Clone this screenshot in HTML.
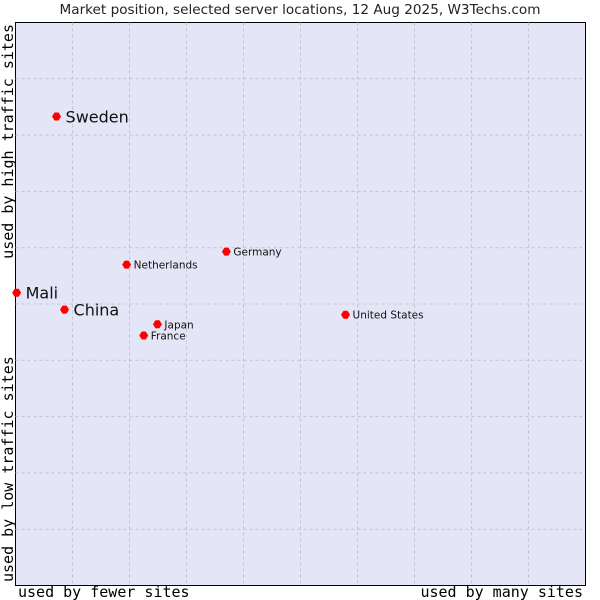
<!DOCTYPE html>
<html><head><meta charset="utf-8"><style>
body{margin:0;background:#fff}
svg{display:block}
</style></head><body>
<svg id="chart" width="600" height="600" xmlns="http://www.w3.org/2000/svg">
<text x="300" y="14" text-anchor="middle" font-family="DejaVu Sans, sans-serif" font-size="13.6" fill="#222">Market position, selected server locations, 12 Aug 2025, W3Techs.com</text>
<rect x="15.5" y="22.5" width="570" height="563" fill="#e4e6f8" stroke="#000"/>
<g id="grid"></g>
<g id="points"></g>
<text x="18" y="597" font-family="DejaVu Sans Mono, monospace" font-size="15" fill="#000">used by fewer sites</text>
<text x="583" y="597" text-anchor="end" font-family="DejaVu Sans Mono, monospace" font-size="15" fill="#000">used by many sites</text>
<text transform="translate(13,24) rotate(-90)" text-anchor="end" font-family="DejaVu Sans Mono, monospace" font-size="15" fill="#000">used by high traffic sites</text>
<text transform="translate(13,582) rotate(-90)" font-family="DejaVu Sans Mono, monospace" font-size="15" fill="#000">used by low traffic sites</text>
</svg>
<script>
const countries=["Sweden","Mali","China","Netherlands","Germany","Japan","France","United States"];
const xValues=[7.2,0.2,8.6,19.5,37,24.9,22.5,57.9];
const yValues=[83.3,52,49,57,59.3,46.4,44.4,48.1];
const bigLabel=[true,true,true,false,false,false,false,false];
const NS="http://www.w3.org/2000/svg";
const L=15.5,T=22.5,W=570,H=563;
const sx=v=>L+v/100*W, sy=v=>T+H-v/100*H;
const grid=document.getElementById('grid');
for(let i=1;i<10;i++){
 const v=document.createElementNS(NS,'line');
 
 
 v.setAttribute('x1',sx(i*10));v.setAttribute('x2',sx(i*10));v.setAttribute('y1',T);v.setAttribute('y2',T+H);
 v.setAttribute('stroke','#c4c4cc');v.setAttribute('stroke-dasharray','3,3');grid.appendChild(v);
 const h=document.createElementNS(NS,'line');
 
 
 h.setAttribute('y1',sy(i*10));h.setAttribute('y2',sy(i*10));h.setAttribute('x1',L);h.setAttribute('x2',L+W);
 h.setAttribute('stroke','#c4c4cc');h.setAttribute('stroke-dasharray','3,3');grid.appendChild(h);
}
const pts=document.getElementById('points');
countries.forEach((c,i)=>{
 const x=sx(xValues[i]),y=sy(yValues[i]);
 const p=document.createElementNS(NS,'path');
 
 
 p.setAttribute('d',`M${x-4.5},${y}L${x-2},${y-4}L${x+2},${y-4}L${x+4.5},${y}L${x+2},${y+4}L${x-2},${y+4}Z`);
 p.setAttribute('fill','#f00');pts.appendChild(p);
 const t=document.createElementNS(NS,'text');
 
 
 t.setAttribute('x',x+(bigLabel[i]?9:7));t.setAttribute('y',y+(bigLabel[i]?6:4));
 t.setAttribute('font-family','DejaVu Sans, sans-serif');
 t.setAttribute('font-size',bigLabel[i]?16:10.5);t.setAttribute('fill','#111');
 t.textContent=c;pts.appendChild(t);
});
</script>
</body></html>
